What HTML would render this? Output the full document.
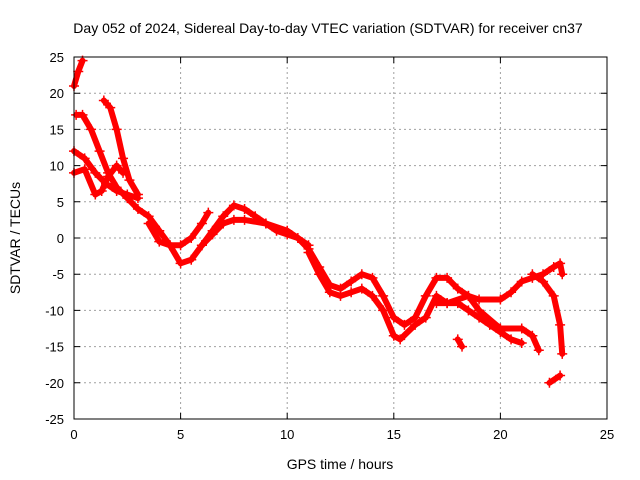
<!DOCTYPE html>
<html><head><meta charset="utf-8"><style>
body{margin:0;background:#fff;}
svg{display:block;font-family:"Liberation Sans",sans-serif;}
</style></head><body>
<svg id="chart" width="640" height="480">
<rect x="0" y="0" width="640" height="480" fill="#fff"/>
<text x="328" y="33" text-anchor="middle" font-size="14">Day 052 of 2024, Sidereal Day-to-day VTEC variation (SDTVAR) for receiver cn37</text>
<text x="340" y="469" text-anchor="middle" font-size="14">GPS time / hours</text>
<text transform="translate(20,238) rotate(-90)" text-anchor="middle" font-size="14">SDTVAR / TECUs</text>
<g id="grid"></g><g id="series"></g><g id="axes"></g>
</svg>
<script>
const xTicks=[0,5,10,15,20,25];
const yTicks=[25,20,15,10,5,0,-5,-10,-15,-20,-25];
const trackA=[[0,21],[0.2,23],[0.4,24.5]];
const trackB=[[0.1,17],[0.4,17],[0.8,15],[1.2,12],[1.6,9],[2,7],[2.5,5.5],[3,4],[3.5,3],[4,1],[4.5,-1],[5,-3.5],[5.5,-3],[6,-1],[6.5,1],[7,3],[7.5,4.5],[8,4],[8.5,3],[9,2],[9.5,1],[10,0.5],[10.5,0],[11,-1.5],[11.5,-4],[12,-6.5],[12.5,-7],[13,-6],[13.5,-5],[14,-5.5],[14.5,-8],[15,-11],[15.5,-12],[16,-11],[16.5,-8],[17,-5.5],[17.5,-5.5],[18,-7],[18.5,-8],[19,-8.5],[20,-8.5],[20.5,-7.5],[21,-6],[21.5,-5.5],[22,-5],[22.5,-4],[22.8,-3.5],[22.9,-5]];
const trackC=[[0,12],[0.5,11],[1,9],[1.5,7.5],[2,6.5],[2.5,6],[3,5.5]];
const trackD=[[1.4,19],[1.7,18],[2,15],[2.3,11],[2.6,8],[3,6]];
const trackE=[[0,9],[0.5,9.5],[1,6],[1.3,6.5],[1.6,8.5],[2,10],[2.3,9]];
const trackF=[[11,-2],[11.5,-5],[12,-7.5],[12.5,-8],[13,-7.5],[13.5,-7],[14,-8],[14.5,-10],[15,-13.5],[15.3,-14],[16,-12],[16.5,-11],[17,-8],[17.5,-9],[18,-9],[18.5,-10],[19,-11],[19.5,-12],[20,-13],[20.5,-14],[21,-14.5]];
const trackG=[[17,-9],[17.5,-9],[18.5,-8],[19,-10],[20,-12.5],[21,-12.5],[21.5,-13.5],[21.8,-15.5]];
const trackH=[[21.5,-5],[22,-6],[22.5,-8],[22.8,-12],[22.9,-16]];
const trackI=[[22.3,-20],[22.8,-19]];
const trackJ=[[18,-14],[18.2,-15]];
const trackK=[[3.5,2],[4,-0.5],[4.5,-1],[5,-1],[5.5,0],[6,2],[6.3,3.5]];
const trackL=[[6,-1],[6.5,0.5],[7,2],[7.5,2.5],[8,2.5],[9,2],[10,1],[11,-1]];
const tracks=[trackA,trackB,trackC,trackD,trackE,trackF,trackG,trackH,trackI,trackJ,trackK,trackL];

const L=74,R=607,T=57,B=419;
const xs=v=>L+(v-0)/(25-0)*(R-L);
const ys=v=>B-(v+25)/50*(B-T);
const NS="http://www.w3.org/2000/svg";
function mk(tag,attrs,parent){const e=document.createElementNS(NS,tag);for(const k in attrs)e.setAttribute(k,attrs[k]);parent.appendChild(e);return e;}
const grid=document.getElementById('grid'),axes=document.getElementById('axes'),ser=document.getElementById('series');
xTicks.forEach(t=>{
  const x=xs(t);
  if(t>0&&t<25){const g=mk('line',{x1:x,x2:x,y1:T,y2:B,stroke:'#a0a0a0','stroke-dasharray':'2,3'},grid);
  
  }
  const tk=mk('path',{d:`M${x},${B}v-6M${x},${T}v6`,stroke:'#000'},axes);
  
  
  const tx=mk('text',{x:x,y:B+20,'text-anchor':'middle','font-size':'13'},axes);tx.textContent=t;
  
  
});
yTicks.forEach(t=>{
  const y=ys(t);
  if(t>-25&&t<25){const g=mk('line',{x1:L,x2:R,y1:y,y2:y,stroke:'#a0a0a0','stroke-dasharray':'2,3'},grid);
  
  }
  const tk=mk('path',{d:`M${L},${y}h6M${R},${y}h-6`,stroke:'#000'},axes);
  
  
  const tx=mk('text',{x:L-10,y:y+5,'text-anchor':'end','font-size':'13'},axes);tx.textContent=t;
  
  
});
const frame=mk('rect',{x:L,y:T,width:R-L,height:B-T,fill:'none',stroke:'#000'},axes);


tracks.forEach(tr=>{
  const pl=mk('polyline',{points:tr.map(p=>xs(p[0])+','+ys(p[1])).join(' '),fill:'none',stroke:'#ff0000','stroke-width':'6','stroke-linejoin':'round','stroke-linecap':'round'},ser);
  
  
  tr.forEach(p=>{
    const m=mk('path',{d:`M${xs(p[0])-5},${ys(p[1])}h10M${xs(p[0])},${ys(p[1])-5}v10`,stroke:'#ff0000','stroke-width':'1.5'},ser);
    
    
  });
});
</script>
</body></html>
